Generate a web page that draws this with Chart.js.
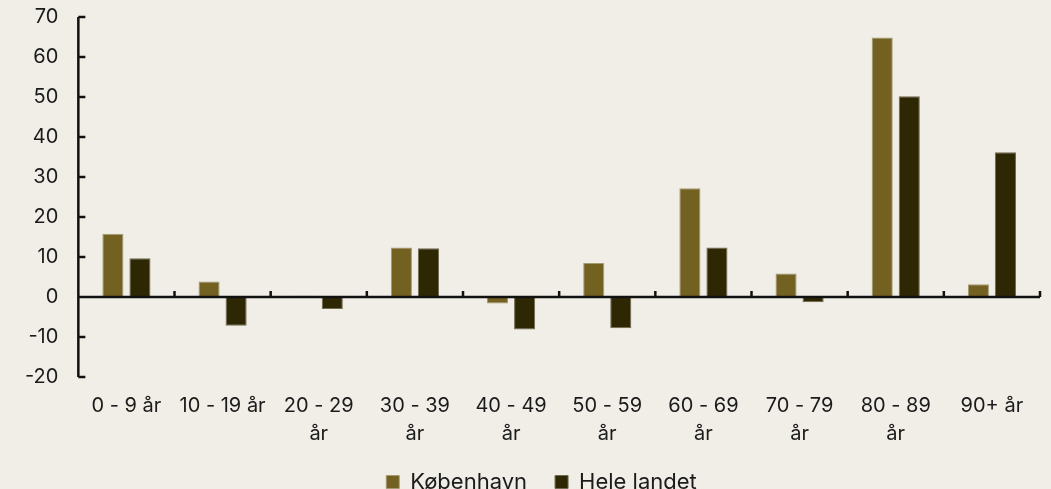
<!DOCTYPE html>
<html>
<head>
<meta charset="utf-8">
<script src="https://cdn.jsdelivr.net/npm/chart.js@4/dist/chart.umd.min.js"></script>
<style>
  html, body { margin: 0; padding: 0; background: #f1eee8; }
  #wrap { width: 1051px; height: 489px; }
</style>
</head>
<body>
<div id="wrap"><canvas id="chart" width="1051" height="489"></canvas></div>
<script>
// data
var categories = ['0 - 9 år', '10 - 19 år', ['20 - 29', 'år'], ['30 - 39', 'år'], ['40 - 49', 'år'],
                  ['50 - 59', 'år'], ['60 - 69', 'år'], ['70 - 79', 'år'], ['80 - 89', 'år'], '90+ år'];
var kobenhavn = [15.8, 3.9, 0.3, 12.4, -1.6, 8.5, 27.2, 5.9, 64.9, 3.2];
var heleLandet = [9.7, -7.2, -3.0, 12.2, -8.1, -7.8, 12.4, -1.3, 50.2, 36.2];
var seriesNames = ['København', 'Hele landet'];
var yMin = -20, yMax = 70, yStep = 10;

var FONT = 'Inter, "DejaVu Sans", sans-serif';
var INK = '#1b1b1b';

// axis lines + inward tick marks (drawn over the bars like the original)
var axisTicks = {
    id: 'axisTicks',
    afterDatasetsDraw: function (chart) {
        var ctx = chart.ctx;
        var x = chart.scales.x;
        var y = chart.scales.y;
        var zero = y.getPixelForValue(0);
        var band = x.width / categories.length;

        ctx.save();
        ctx.strokeStyle = '#111';
        ctx.lineWidth = 2.5;
        ctx.beginPath();
        // y axis
        ctx.moveTo(x.left, y.top);
        ctx.lineTo(x.left, y.bottom);
        for (var i = 0; i < y.ticks.length; i++) {
            var py = y.getPixelForTick(i);
            ctx.moveTo(x.left, py);
            ctx.lineTo(x.left + 7, py);
        }
        // zero line
        ctx.moveTo(x.left, zero);
        ctx.lineTo(x.right, zero);
        for (var j = 1; j <= categories.length; j++) {
            var px = x.left + j * band;
            ctx.moveTo(px, zero);
            ctx.lineTo(px, zero - 6);
        }
        ctx.stroke();
        ctx.restore();
    }
};

// keep the legend short so it sits low like the original, and nudge it right
var legendBox = {
    id: 'legendBox',
    beforeInit: function (chart) {
        var fit = chart.legend.fit;
        chart.legend.fit = function () {
            fit.bind(chart.legend)();
            this.height = 46;
        };
    },
    afterLayout: function (chart) {
        chart.legend.left += 15;
        chart.legend.right += 15;
    }
};

var ctx = document.getElementById('chart').getContext('2d');
var chart = new Chart(ctx, {
    type: 'bar',
    data: {
        labels: categories,
        datasets: [{
            label: seriesNames[0],
            data: kobenhavn,
            backgroundColor: '#736121',
            borderColor: '#a49a72',
            borderWidth: 1
        }, {
            label: seriesNames[1],
            data: heleLandet,
            backgroundColor: '#2e2704',
            borderColor: '#6f6a50',
            borderWidth: 1
        }]
    },
    options: {
        responsive: false,
        animation: false,
        categoryPercentage: 0.5625,
        barPercentage: 0.78,
        layout: { padding: { top: 17, right: 11, left: 13, bottom: 0 } },
        plugins: {
            legend: {
                position: 'bottom',
                labels: {
                    font: { family: FONT, size: 22 },
                    color: INK,
                    boxWidth: 13,
                    boxHeight: 13,
                    padding: 28
                }
            },
            tooltip: { enabled: false }
        },
        scales: {
            x: {
                grid: { display: false },
                border: { display: false },
                afterFit: function (s) { s.height = 66; },
                ticks: {
                    font: { family: FONT, size: 20, lineHeight: 1.4 },
                    color: INK,
                    maxRotation: 0,
                    autoSkip: false,
                    padding: 7
                }
            },
            y: {
                min: yMin,
                max: yMax,
                grid: { display: false },
                border: { display: false },
                afterFit: function (s) { s.paddingTop = 0; },
                ticks: {
                    stepSize: yStep,
                    font: { family: FONT, size: 20 },
                    color: INK,
                    padding: 12
                }
            }
        }
    },
    plugins: [axisTicks, legendBox]
});
</script>
</body>
</html>
